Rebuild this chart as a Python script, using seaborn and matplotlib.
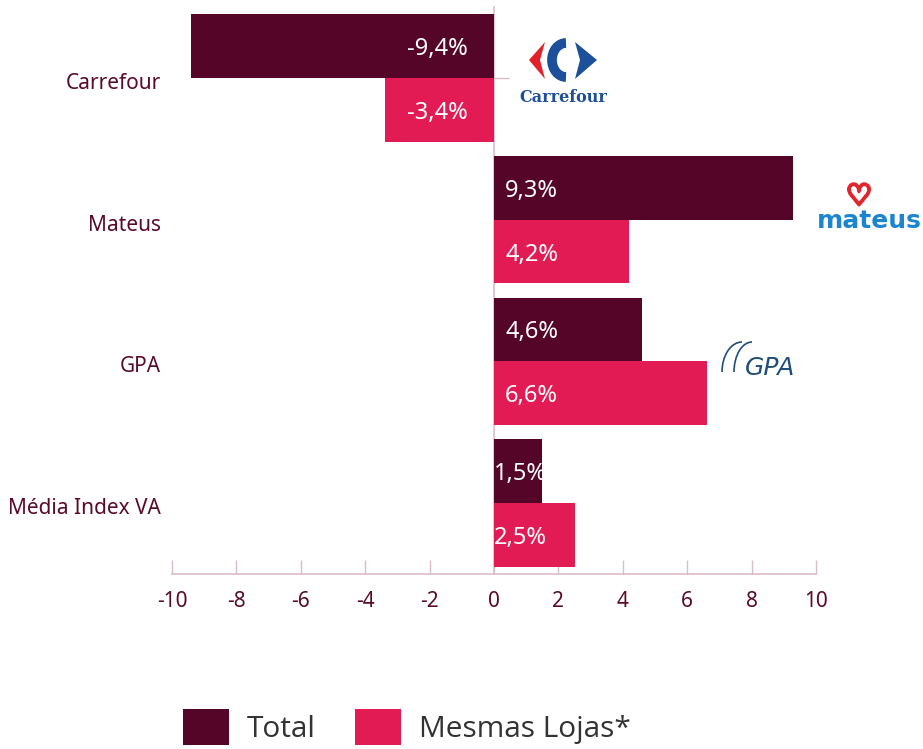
import numpy as np
import pandas as pd
import matplotlib
matplotlib.use("Agg")
import matplotlib.pyplot as plt
import matplotlib.patheffects as pe
import seaborn as sns
from matplotlib.patches import Patch, Polygon, Arc

# ---- data ----
empresas = ["Carrefour", "Mateus", "GPA", "Média Index VA"]
total = [-9.4, 9.3, 4.6, 1.5]
mesmas_lojas = [-3.4, 4.2, 6.6, 2.5]
series = ["Total", "Mesmas Lojas*"]
x_ticks = [-10, -8, -6, -4, -2, 0, 2, 4, 6, 8, 10]

df = pd.DataFrame({
    "empresa": empresas * 2,
    "valor": total + mesmas_lojas,
    "tipo": [series[0]] * len(empresas) + [series[1]] * len(empresas),
})

C_TOTAL = "#550528"
C_MESMAS = "#e31b54"
C_AXIS = "#dcbcc8"
C_TEXT = "#5a0a2a"

sns.set_theme(style="white")
plt.rcParams["font.family"] = ["Noto Sans", "DejaVu Sans"]

W, H = 923, 749
fig = plt.figure(figsize=(W / 100, H / 100), dpi=100)
ax = fig.add_axes([172 / W, 1 - 574 / H, (816 - 172) / W, (574 - 7) / H])

sns.barplot(data=df, y="empresa", x="valor", hue="tipo", hue_order=series,
            order=empresas, orient="h", palette=[C_TOTAL, C_MESMAS],
            width=0.9, ax=ax, legend=False, saturation=1, edgecolor="none")

ax.set_xlim(-10, 10)
ax.set_ylim(3.5, -0.5)
ax.set_xticks(x_ticks)
ax.set_xticklabels([str(t) for t in x_ticks])
ax.set_xlabel("")
ax.set_ylabel("")
for s in ["top", "right", "left"]:
    ax.spines[s].set_visible(False)
ax.spines["bottom"].set_color(C_AXIS)
ax.spines["bottom"].set_linewidth(1.2)
ax.tick_params(axis="x", direction="in", length=10, width=1, color=C_AXIS,
               labelsize=15, labelcolor=C_TEXT, pad=12, bottom=True)
ax.tick_params(axis="y", length=0, labelsize=15, labelcolor=C_TEXT, pad=8)
for lbl in ax.get_yticklabels():
    lbl.set_transform(lbl.get_transform() + matplotlib.transforms.ScaledTranslation(0, -3 / 100, fig.dpi_scale_trans))

# zero line with category ticks
sec = ax.secondary_yaxis(0.5)
sec.set_yticks(range(len(empresas)))
sec.set_yticklabels([""] * len(empresas))
sec.tick_params(axis="y", length=11, width=1, color=C_AXIS)
for s in sec.spines.values():
    s.set_color(C_AXIS)
    s.set_linewidth(1.2)

# bar labels
for cont, vals in zip(ax.containers, [total, mesmas_lojas]):
    for bar, v in zip(cont.patches, vals):
        yc = bar.get_y() + bar.get_height() / 2
        txt = f"{v:.1f}".replace(".", ",") + "%"
        if v < 0:
            off, ha = -26, "right"
        else:
            off = 11 if abs(v) > 3 else 0
            ha = "left"
        ax.annotate(txt, xy=(0, yc), xytext=(off, -3), textcoords="offset pixels",
                    ha=ha, va="center", color="white", fontsize=17)

# legend
handles = [Patch(facecolor=C_TOTAL, edgecolor="none"),
           Patch(facecolor=C_MESMAS, edgecolor="none")]
leg = fig.legend(handles, series, loc="center", bbox_to_anchor=(407 / W, 1 - 727 / H),
                 ncol=2, frameon=False, handlelength=1.55, handleheight=1.5,
                 handletextpad=0.6, columnspacing=1.3, borderpad=0,
                 prop={"family": ["Open Sans", "DejaVu Sans"], "size": 21.5})
for t in leg.get_texts():
    t.set_color("#333333")


def fx(px):
    return px / W


def fy(py):
    return 1 - py / H


# Carrefour logo (approximation)
fig.text(fx(563), fy(98), "Carrefour", ha="center", va="center", fontsize=11.5,
         fontweight="bold", family="DejaVu Serif", color="#1d4f9a")
fig.patches.append(Polygon([[fx(545), fy(42)], [fx(529), fy(60)], [fx(545), fy(79)],
                            [fx(540), fy(60)]], closed=True, transform=fig.transFigure,
                           facecolor="#e3212b", edgecolor="none"))
fig.patches.append(Arc((fx(566), fy(60)), 28 / W, 34 / H, theta1=90, theta2=270,
                       transform=fig.transFigure, color="#1d4f9a", lw=7))
fig.patches.append(Polygon([[fx(575), fy(42)], [fx(597), fy(60)], [fx(575), fy(79)],
                            [fx(580), fy(60)]], closed=True, transform=fig.transFigure,
                           facecolor="#1d4f9a", edgecolor="none"))

# Mateus logo (approximation)
fig.text(fx(869), fy(221), "mateus", ha="center", va="center", fontsize=18,
         fontweight="bold", family="DejaVu Sans", color="#1b86cf")
fig.text(fx(859), fy(197), "\u2661", ha="center", va="center", fontsize=21,
         fontweight="bold", family="DejaVu Sans", color="#e3262e",
         path_effects=[pe.withStroke(linewidth=2.2, foreground="#e3262e")])

# GPA logo (approximation)
fig.text(fx(770), fy(368), "GPA", ha="center", va="center", fontsize=18,
         style="italic", family="DejaVu Sans", color="#1f4e79")
for cx, w_ in [(742, 40), (752, 36)]:
    fig.patches.append(Arc((fx(cx), fy(372)), w_ / W, 60 / H, theta1=90, theta2=180,
                           transform=fig.transFigure, color="#1f4e79", lw=1.2))

fig.savefig("out.png", dpi=100)
